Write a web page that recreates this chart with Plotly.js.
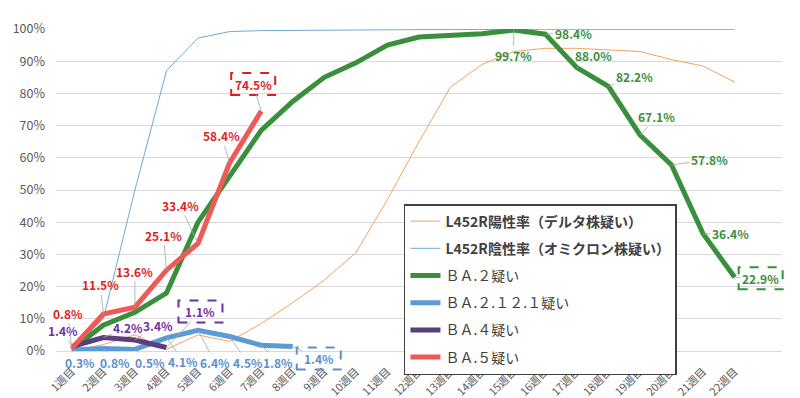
<!DOCTYPE html>
<html>
<head>
<meta charset="utf-8">
<script src="https://cdn.plot.ly/plotly-3.0.1.min.js"></script>
<style>html,body{margin:0;padding:0;background:#fff;}#chart{width:800px;height:398px;}</style>
</head>
<body>
<div id="chart"></div>
<script>
// ---- data ----
const weeks = ['1週目','2週目','3週目','4週目','5週目','6週目','7週目','8週目','9週目','10週目','11週目',
  '12週目','13週目','14週目','15週目','16週目','17週目','18週目','19週目','20週目','21週目','22週目'];
const deltaPos = [0, 2, 5, 0.5, 5, 3, 8.5, 15, 22, 30.5, 47, 65, 82, 89, 93, 94, 94, 93.5, 93, 90.5, 88.5, 83.5];
const omicronNeg = [0.5, 10, 50, 87, 97.2, 99.2, 99.5, 99.6, 99.7, 99.7, 99.8, 99.8, 99.8, 99.9, 99.9, 99.9, 99.9, 99.9, 99.9, 99.9, 99.9, 99.9];
const ba2 = [0.5, 8, 12, 18, 40, 54, 68.5, 77.5, 85, 89.5, 95, 97.5, 98, 98.5, 99.7, 98.4, 88.0, 82.2, 67.1, 57.8, 36.4, 22.9];
const ba2121 = [0.3, 0.8, 0.5, 4.1, 6.4, 4.5, 1.8, 1.4];
const ba4 = [1.4, 4.2, 3.4, 1.1];
const ba5 = [0.8, 11.5, 13.6, 25.1, 33.4, 58.4, 74.5];
const names = ['<b>L452R陽性率（デルタ株疑い）</b>', '<b>L452R陰性率（オミクロン株疑い）</b>',
  'ＢＡ.２疑い', 'ＢＡ.２.１２.１疑い', 'ＢＡ.４疑い', 'ＢＡ.５疑い'];

// ---- label placement (pixel offsets from the point) ----
const ba2LabelFrom = 14;
const ba2Off = [[0,26],[28,-1],[17,-12],[26,-10],[17,-18],[38,-5],[27,0],[26,1]];
const ba2121Off = [[8,12],[12,14],[15,13],[17,24],[17,32],[18,26],[17,17],[26,12]];
const ba4Off = [[-9,-16],[25,-10],[23,-15],[34,-36]];
const ba5Off = [[-4,-35],[-3,-29],[0,-36],[-3,-35],[-18,-38],[-8,-27],[-8,-27]];

const FONT = '"Noto Sans CJK JP", "Noto Sans", sans-serif';
const C = {
  delta: '#f2a35e', omi: '#6faad3', ba2: '#3a8f3d', ba2121: '#5b9bd5', ba4: '#5a3f7c', ba5: '#ee5a58',
  tBa2: '#3a8f3d', tBa2121: '#5b8fcc', tBa4: '#7030a0', tBa5: '#dc1f1f'
};
const Y_RANGE = [0, 100];
const X_RANGE = [-0.5, 22.5];

function line(y, name, color, width) {
  return {
    x: weeks.slice(0, y.length), y: y, name: name, type: 'scatter', mode: 'lines',
    line: {color: color, width: width}, cliponaxis: false, hoverinfo: 'skip',
    legendgroup: name
  };
}
const traces = [
  line(deltaPos, names[0], C.delta, 1),
  line(omicronNeg, names[1], C.omi, 1),
  line(ba2, names[2], C.ba2, 5),
  line(ba2121, names[3], C.ba2121, 5),
  line(ba4, names[4], C.ba4, 5),
  line(ba5, names[5], C.ba5, 5)
];

const annotations = [];
const shapes = [];
function addLabels(vals, start, offs, color, boxIdx) {
  offs.forEach((o, k) => {
    const i = start + k;
    annotations.push({
      x: weeks[i], y: vals[i], xref: 'x', yref: 'y',
      text: '<b>' + vals[i].toFixed(1) + '%</b>',
      showarrow: true, ax: o[0], ay: o[1], arrowhead: 0, arrowwidth: 0.8,
      arrowcolor: '#a6a6a6', standoff: 0, startstandoff: 0,
      font: {family: FONT, size: 12, color: color}
    });
    if (i === boxIdx) {
      // dashed frame round the label (domain refs so it is not clipped)
      shapes.push({
        type: 'rect', xref: 'x domain', yref: 'y domain', xsizemode: 'pixel', ysizemode: 'pixel',
        xanchor: (i - X_RANGE[0]) / (X_RANGE[1] - X_RANGE[0]),
        yanchor: (vals[i] - Y_RANGE[0]) / (Y_RANGE[1] - Y_RANGE[0]),
        x0: o[0] - 22, x1: o[0] + 22, y0: -o[1] - 11, y1: -o[1] + 11,
        line: {color: color, width: 2, dash: 'dash'}, fillcolor: 'rgba(0,0,0,0)'
      });
    }
  });
}
addLabels(ba2, ba2LabelFrom, ba2Off, C.tBa2, ba2.length - 1);
addLabels(ba2121, 0, ba2121Off, C.tBa2121, ba2121.length - 1);
addLabels(ba4, 0, ba4Off, C.tBa4, ba4.length - 1);
addLabels(ba5, 0, ba5Off, C.tBa5, ba5.length - 1);

const layout = {
  width: 800, height: 398,
  margin: {l: 56, r: 18, t: 29, b: 47},
  paper_bgcolor: '#ffffff', plot_bgcolor: '#ffffff',
  font: {family: FONT, color: '#595959'},
  showlegend: true,
  legend: {
    x: 0.4793, y: 0.4565, xanchor: 'left', yanchor: 'top',
    bgcolor: '#ffffff', bordercolor: '#404040', borderwidth: 1.5,
    font: {family: FONT, size: 14, color: '#404040'},
    traceorder: 'grouped', tracegroupgap: 6
  },
  xaxis: {
    type: 'category', categoryorder: 'array', categoryarray: weeks,
    range: X_RANGE, tickangle: -45, showgrid: false, zeroline: false, showline: false,
    ticks: '', ticklabelstandoff: 11, tickfont: {family: FONT, size: 11, color: '#595959'}, automargin: false,
    fixedrange: true
  },
  yaxis: {
    range: Y_RANGE, dtick: 10, ticksuffix: '%', showgrid: true, gridcolor: '#d9d9d9', gridwidth: 1,
    zeroline: true, zerolinecolor: '#d9d9d9', zerolinewidth: 1, showline: false, ticks: '',
    ticklabelstandoff: 10, tickfont: {family: FONT, size: 12.5, color: '#595959'}, automargin: false,
    fixedrange: true
  },
  annotations: annotations,
  shapes: shapes
};

Plotly.newPlot('chart', traces, layout, {staticPlot: true, displayModeBar: false});
</script>
</body>
</html>
